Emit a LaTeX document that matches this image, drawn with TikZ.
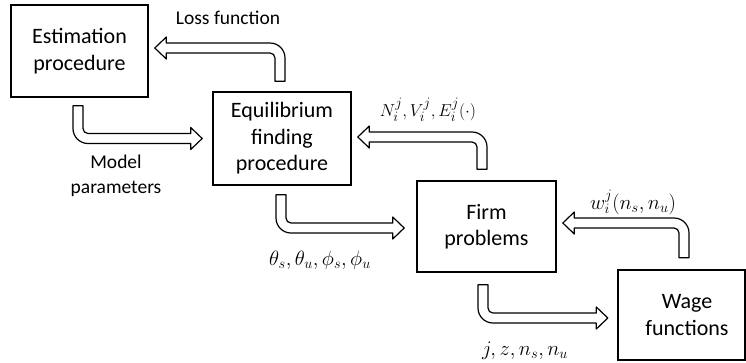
\documentclass[tikz,border=0pt]{standalone}
\usepackage{fontspec}
\setmainfont{Carlito}
\usetikzlibrary{calc}

\tikzset{
  boxtext/.style={align=center, inner sep=0pt,
    font=\fontsize{22}{26.5}\selectfont},
  procbox/.style={boxtext, draw, line width=1.6pt},
  flowlabel/.style={align=center, inner sep=0pt,
    font=\fontsize{19.5}{25}\selectfont},
  mathlabel/.style={inner sep=0pt, font=\fontsize{21}{25}\selectfont},
  blockarrow/.style={draw, line width=1.2pt, fill=white, line join=round},
}

% Bent block arrow: stem goes up from #1, then turns left to the tip #2
\newcommand\arrowUpLeft[2]{%
  \path[blockarrow] let \p1=(#1), \p2=(#2) in
    (\x1-5pt,\y1) -- (\x1+5pt,\y1) -- (\x1+5pt,\y2-10pt)
    arc[start angle=0,end angle=90,radius=15pt]
    -- (\x2+11.5pt,\y2+5pt) -- (\x2+11.5pt,\y2+11pt) -- (\x2,\y2)
    -- (\x2+11.5pt,\y2-11pt) -- (\x2+11.5pt,\y2-5pt)
    -- (\x1-10pt,\y2-5pt) arc[start angle=90,end angle=0,radius=5pt]
    -- cycle;}

% Bent block arrow: stem goes down from #1, then turns right to the tip #2
\newcommand\arrowDownRight[2]{%
  \path[blockarrow] let \p1=(#1), \p2=(#2) in
    (\x1+5pt,\y1) -- (\x1-5pt,\y1) -- (\x1-5pt,\y2+10pt)
    arc[start angle=180,end angle=270,radius=15pt]
    -- (\x2-11.5pt,\y2-5pt) -- (\x2-11.5pt,\y2-11pt) -- (\x2,\y2)
    -- (\x2-11.5pt,\y2+11pt) -- (\x2-11.5pt,\y2+5pt)
    -- (\x1+10pt,\y2+5pt) arc[start angle=270,end angle=180,radius=5pt]
    -- cycle;}

\begin{document}
\begin{tikzpicture}[x=1pt,y=1pt]
  \useasboundingbox (0,0) rectangle (746,-362);
  \coordinate (rightedge) at (745,0);

  % process boxes
  \node[procbox, minimum width=137pt, minimum height=92pt] (est) at (79.5,-51)
    {Estimation\\procedure};
  \node[procbox, minimum width=138pt, minimum height=93pt] (eq) at (282,-138.5)
    {Equilibrium\\finding\\procedure};
  \node[procbox, minimum width=139pt, minimum height=91pt] (firm) at (486.5,-226.5)
    {Firm\\problems};
  % the wage box runs into the right margin
  \node[boxtext, minimum width=138pt, minimum height=90pt] (wage) at (687,-315)
    {Wage\\functions};
  \draw[line width=1.6pt] (wage.north west) rectangle (wage.south east -| rightedge);

  % arrow end points
  \coordinate (lossA) at ($(eq.north)+(-2,10)$);
  \coordinate (lossB) at ($(est.east)+(6,3)$);
  \coordinate (parA) at ($(est.south)+(-1.5,-8)$);
  \coordinate (parB) at ($(eq.west)+(-10,0)$);
  \coordinate (nvA) at ($(firm.north)+(-4.5,11)$);
  \coordinate (nvB) at ($(eq.east)+(6,1.5)$);
  \coordinate (thA) at ($(eq.south)+(-1,-9)$);
  \coordinate (thB) at ($(firm.west)+(-12,-1.5)$);
  \coordinate (wA) at ($(wage.north)+(-3,12)$);
  \coordinate (wB) at ($(firm.east)+(6,3.5)$);
  \coordinate (jA) at ($(firm.south)+(-3.5,-12)$);
  \coordinate (jB) at ($(wage.west)+(-10,-3)$);

  % block arrows between the boxes
  \arrowUpLeft{lossA}{lossB}
  \arrowDownRight{parA}{parB}
  \arrowUpLeft{nvA}{nvB}
  \arrowDownRight{thA}{thB}
  \arrowUpLeft{wA}{wB}
  \arrowDownRight{jA}{jB}

  % arrow labels
  \node[flowlabel] (lossL) at (228,-18) {Loss function};
  \node[flowlabel] (parL) at (116,-176) {Model\\parameters};
  \node[mathlabel, font=\fontsize{19}{25}\selectfont] (nvL) at (428,-110)
    {$N_i^j,V_i^j,E_i^j(\cdot)$};
  \node[mathlabel, font=\fontsize{19.5}{25}\selectfont] (thL) at (320,-260)
    {$\theta_s,\theta_u,\phi_s,\phi_u$};
  \node[mathlabel] (wL) at (633,-202) {$w_i^j(n_s,n_u)$};
  \node[mathlabel] (jL) at (525,-351) {$j,z,n_s,n_u$};
\end{tikzpicture}
\end{document}
